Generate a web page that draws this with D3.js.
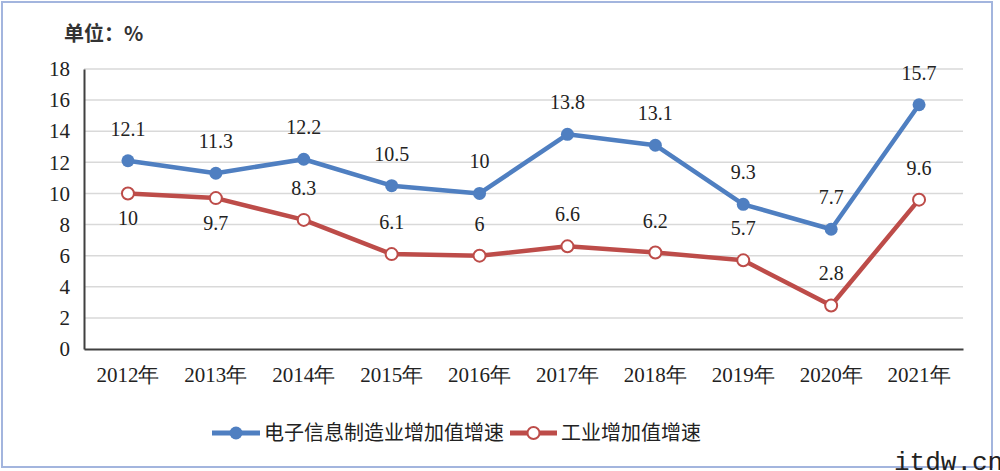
<!DOCTYPE html>
<html>
<head>
<meta charset="utf-8">
<script src="https://cdn.jsdelivr.net/npm/d3@7"></script>
<style>
html,body{margin:0;padding:0;background:#fff;}
svg{display:block;}
</style>
</head>
<body>
<svg id="chart" width="1000" height="471"></svg>
<script>
const categories = ["2012年","2013年","2014年","2015年","2016年","2017年","2018年","2019年","2020年","2021年"];
const electronics = [12.1, 11.3, 12.2, 10.5, 10, 13.8, 13.1, 9.3, 7.7, 15.7];
const industry = [10, 9.7, 8.3, 6.1, 6, 6.6, 6.2, 5.7, 2.8, 9.6];
const yTicks = [0, 2, 4, 6, 8, 10, 12, 14, 16, 18];
const seriesNames = ["电子信息制造业增加值增速", "工业增加值增速"];
const unitLabel = "单位：%";
const watermark = "itdw.cn";
// label placement: true = below the point
const industryLabelBelow = [true, true, false, false, false, false, false, false, false, false];

const svg = d3.select("#chart");
const serif = "'Liberation Serif','Times New Roman',serif";
const cjk = "'Noto Sans CJK SC','Noto Sans',sans-serif";
const blue = "#4f7fc1";
const red = "#bd4c49";

// frame
svg.append("rect").attr("x", 2).attr("y", 2).attr("width", 990).attr("height", 465)
  .attr("fill", "#fff").attr("stroke", "#a3b5de").attr("stroke-width", 2);

const x = d3.scaleBand().domain(categories).range([84, 963]);
const y = d3.scaleLinear().domain([0, 18]).range([349, 69]);

// gridlines
svg.append("g").selectAll("line").data(yTicks.filter(d => d > 0)).join("line")
  .attr("x1", 84).attr("x2", 963)
  .attr("y1", d => y(d)).attr("y2", d => y(d))
  .attr("stroke", "#d9d9d9").attr("stroke-width", 1.5);

// y axis
const yAxis = svg.append("g").attr("transform", "translate(84,0)")
  .call(d3.axisLeft(y).tickValues(yTicks).tickSize(0).tickPadding(14));
yAxis.select(".domain").attr("stroke", "#404040").attr("stroke-width", 2);
yAxis.selectAll("text").attr("font-family", serif).attr("font-size", 21).attr("fill", "#222");

// x axis
const xAxis = svg.append("g").attr("transform", "translate(0,349)")
  .call(d3.axisBottom(x).tickSize(0).tickPadding(18));
xAxis.select(".domain").attr("stroke", "#404040").attr("stroke-width", 2);
xAxis.selectAll("text").attr("font-family", serif).attr("font-size", 21).attr("fill", "#222");

const cx = d => x(d) + x.bandwidth() / 2;
const line = d3.line().x((d, i) => cx(categories[i])).y(d => y(d));

function drawSeries(vals, color, filled, below) {
  svg.append("path").datum(vals).attr("d", line)
    .attr("fill", "none").attr("stroke", color).attr("stroke-width", 4.5)
    .attr("stroke-linejoin", "round").attr("stroke-linecap", "round");
  svg.append("g").selectAll("circle").data(vals).join("circle")
    .attr("cx", (d, i) => cx(categories[i])).attr("cy", d => y(d))
    .attr("r", filled ? 6.5 : 6)
    .attr("fill", filled ? color : "#fff")
    .attr("stroke", color).attr("stroke-width", filled ? 0 : 2);
  svg.append("g").selectAll("text").data(vals).join("text")
    .attr("x", (d, i) => cx(categories[i]))
    .attr("y", (d, i) => below && below[i] ? y(d) + 32 : y(d) - 25)
    .attr("text-anchor", "middle")
    .attr("font-family", serif).attr("font-size", 20).attr("fill", "#222")
    .text(d => d);
}
drawSeries(industry, red, false, industryLabelBelow);
drawSeries(electronics, blue, true, null);

// unit label
svg.append("text").attr("x", 64).attr("y", 41)
  .attr("font-family", cjk).attr("font-size", 20).attr("font-weight", "bold").attr("fill", "#333")
  .text(unitLabel);

// legend
const legend = [
  {name: seriesNames[0], color: blue, filled: true, x1: 212, x2: 260, tx: 264},
  {name: seriesNames[1], color: red, filled: false, x1: 510, x2: 557, tx: 561}
];
const lg = svg.append("g");
legend.forEach(l => {
  lg.append("line").attr("x1", l.x1).attr("x2", l.x2).attr("y1", 433).attr("y2", 433)
    .attr("stroke", l.color).attr("stroke-width", 5);
  lg.append("circle").attr("cx", (l.x1 + l.x2) / 2).attr("cy", 433).attr("r", l.filled ? 6.5 : 6)
    .attr("fill", l.filled ? l.color : "#fff").attr("stroke", l.color).attr("stroke-width", l.filled ? 0 : 2);
  lg.append("text").attr("x", l.tx).attr("y", 440)
    .attr("font-family", cjk).attr("font-size", 20).attr("fill", "#222").text(l.name);
});

// watermark
svg.append("text").attr("x", 894).attr("y", 470)
  .attr("font-family", "'Liberation Mono','Courier New',monospace").attr("font-size", 26).attr("fill", "#222").text(watermark);
</script>
</body>
</html>
